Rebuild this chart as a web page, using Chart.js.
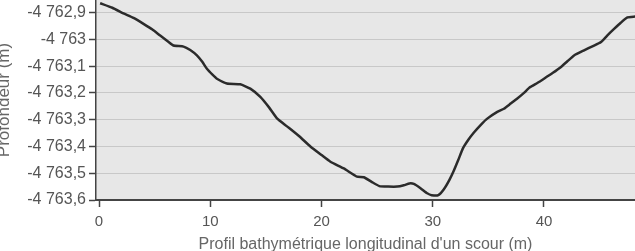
<!DOCTYPE html>
<html>
<head>
<meta charset="utf-8">
<script src="https://cdn.jsdelivr.net/npm/chart.js@4/dist/chart.umd.min.js"></script>
<style>
  html, body { margin:0; padding:0; background:#fff; }
  #wrap { width:635px; height:251px; position:relative; }
</style>
</head>
<body>
<div id="wrap"><canvas id="profil-chart"></canvas></div>
<script>
// distance le long du profil (m)
const distances = [0.1, 1.2, 2.2, 3.1, 4.0, 4.8, 5.5, 6.2, 6.7, 7.6, 8.2, 8.8, 9.3, 9.7, 10.2, 10.6,
  11.5, 12.7, 13.6, 14.5, 15.3, 16.0, 16.9, 18.0, 19.0, 20.0, 20.8, 22.0, 23.2, 23.8, 24.5, 25.2,
  26.0, 26.8, 27.4, 27.9, 28.3, 28.9, 29.5, 29.9, 30.5, 31.0, 31.5, 31.9, 32.3, 32.7, 33.2, 33.7,
  34.3, 34.9, 35.8, 36.4, 37.0, 37.6, 38.2, 38.7, 39.4, 40.0, 40.8, 41.5, 42.1, 42.7, 43.6, 44.4,
  45.1, 45.7, 46.3, 46.9, 47.5, 48.2];
// profondeur (m)
const profondeurs = [-4762.865, -4762.882, -4762.903, -4762.920, -4762.942, -4762.963, -4762.986, -4763.008,
  -4763.023, -4763.027, -4763.040, -4763.060, -4763.085, -4763.110, -4763.132, -4763.147,
  -4763.165, -4763.168, -4763.184, -4763.215, -4763.255, -4763.295, -4763.325, -4763.362,
  -4763.400, -4763.432, -4763.457, -4763.482, -4763.513, -4763.515, -4763.532, -4763.548,
  -4763.550, -4763.550, -4763.545, -4763.538, -4763.540, -4763.556, -4763.575, -4763.582,
  -4763.582, -4763.560, -4763.525, -4763.490, -4763.450, -4763.408, -4763.375, -4763.348,
  -4763.320, -4763.296, -4763.271, -4763.259, -4763.240, -4763.221, -4763.200, -4763.180,
  -4763.163, -4763.147, -4763.125, -4763.104, -4763.082, -4763.060, -4763.041, -4763.025,
  -4763.011, -4762.985, -4762.961, -4762.938, -4762.918, -4762.915];

const xTicks = [0, 10, 20, 30, 40];
const yTicks = [-4762.9, -4763.0, -4763.1, -4763.2, -4763.3, -4763.4, -4763.5, -4763.6];
const yTickLabels = ['-4 762,9', '-4 763', '-4 763,1', '-4 763,2', '-4 763,3', '-4 763,4', '-4 763,5', '-4 763,6'];

const FONT = 'Liberation Sans, Arial, sans-serif';

// fond gris de la zone de tracé
const plotBg = {
  id: 'plotBg',
  beforeDraw(chart) {
    const { ctx, chartArea: a } = chart;
    ctx.save();
    ctx.fillStyle = '#e7e7e7';
    ctx.fillRect(a.left, a.top, a.right - a.left, a.bottom - a.top);
    ctx.restore();
  }
};

function noPad(s) { s.paddingTop = 0; s.paddingBottom = 0; s.paddingLeft = 0; s.paddingRight = 0; }

new Chart(document.getElementById('profil-chart'), {
  type: 'line',
  data: {
    datasets: [{
      data: distances.map((d, i) => ({ x: d, y: profondeurs[i] })),
      borderColor: '#2b2b2b', borderWidth: 2.5, pointRadius: 0, tension: 0.15, fill: false
    }]
  },
  options: {
    responsive: true, maintainAspectRatio: false, animation: false,
    layout: { padding: 0 },
    plugins: { legend: { display: false }, tooltip: { enabled: false } },
    scales: {
      x: {
        type: 'linear', min: -0.27, max: 48.18,
        afterBuildTicks: s => { s.ticks = xTicks.map(v => ({ value: v })); },
        afterFit: s => { s.height = 51; noPad(s); },
        ticks: { color: '#555', font: { family: FONT, size: 15 }, padding: 6 },
        grid: { display: true, drawOnChartArea: false, drawTicks: true, tickLength: 7, tickColor: '#444', tickWidth: 1.5 },
        border: { display: true, color: '#444', width: 2 },
        title: { display: true, text: "Profil bathymétrique longitudinal d'un scour (m)",
          color: '#666', font: { family: FONT, size: 16 }, padding: { top: 0, bottom: -3 } }
      },
      y: {
        type: 'linear', min: -4763.6, max: -4762.853,
        afterBuildTicks: s => { s.ticks = yTicks.map(v => ({ value: v })); },
        afterFit: s => { s.width = 96; noPad(s); },
        ticks: { color: '#555', font: { family: FONT, size: 16 }, padding: 3,
          callback: (v, i) => yTickLabels[i] },
        grid: { color: '#a8a8a8', lineWidth: 1, tickLength: 7, tickColor: '#444', tickWidth: 1.5, tickBorderDash: [] },
        border: { display: true, color: '#444', width: 1.5, dash: [1, 1] },
        title: { display: true, text: 'Profondeur (m)', color: '#666',
          font: { family: FONT, size: 17 }, padding: { top: -6, bottom: 0 } }
      }
    }
  },
  plugins: [plotBg]
});
</script>
</body>
</html>
